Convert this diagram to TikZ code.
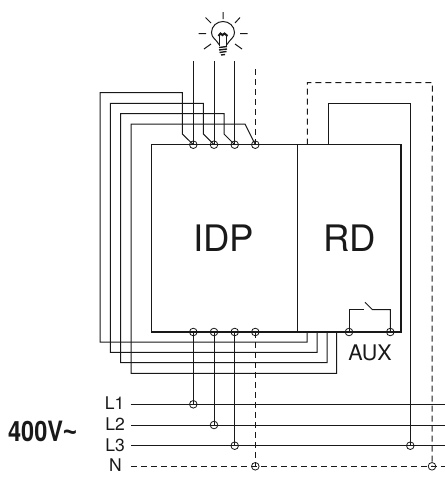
\documentclass[tikz,border=0pt]{standalone}
\usepackage{fontspec}
\setmainfont{TeX Gyre Heros}
\newfontfamily\tildefont{Liberation Sans}
\definecolor{ink}{gray}{0.1}
\tikzset{
  x=1pt,y=-1pt,
  wire/.style={draw=ink,line width=1pt},
  dwire/.style={draw=ink,line width=1pt,dash pattern=on 6pt off 4pt},
  boxline/.style={draw=ink,line width=1.25pt},
  term/.style={circle,draw=ink,line width=0.8pt,minimum size=7.6pt,inner sep=0pt,outer sep=0pt},
  lab/.style={inner sep=0pt,text=ink},
}
\begin{document}
\begin{tikzpicture}
\useasboundingbox (0,0) rectangle (445,480);
% coordinates
\coordinate (t1) at (193.3,144.7);\coordinate (t2) at (214,144.7);\coordinate (t3) at (234.7,144.7);\coordinate (t4) at (255.3,144.7);
\coordinate (b1) at (193.3,332);\coordinate (b2) at (214,332);\coordinate (b3) at (234.7,332);\coordinate (b4) at (255.3,332);
\coordinate (a1) at (349,332);\coordinate (a2) at (390.3,332);
\coordinate (q1) at (193.3,404.3);\coordinate (q2) at (214,425);\coordinate (q3) at (234.7,445.7);\coordinate (q4) at (255.3,466.3);
\coordinate (q5) at (410.3,445.7);\coordinate (q6) at (432,466.3);
% lines
\draw[wire] (130.5,404.3) -- (445,404.3);
\draw[wire] (131,425) -- (445,425);
\draw[wire] (131,445.7) -- (445,445.7);
\draw[dwire] (131,466.3) -- (445,466.3);
% loops
\draw[wire] (193.3,144.7) -- (182.3,134) -- (182.3,92.7) -| (100,342) -- (307,342) -- (307,332);
\draw[wire] (214,144.7) -- (203.3,134) -- (203.3,103.3) -| (110.3,352.3) -- (317,352.3) -- (317,332);
\draw[wire] (234.7,144.7) -- (224,134) -- (224,113.7) -| (120.7,362.7) -- (327,362.7) -- (327,332);
\draw[wire] (255.3,144.7) -- (245,124) -| (131,373.3) -- (336.7,373.3) -- (336.7,332);
% boxes
\draw[boxline] (151.7,144.7) rectangle (297.3,332);
\draw[boxline] (297.3,144.7) rectangle (401,332);
\node[lab,font=\fontsize{36.5}{36.5}\selectfont] (idp) at (223.5,238) {IDP};
\node[lab,font=\fontsize{36.5}{36.5}\selectfont] (rd) at (349.5,238) {RD};
% terminals
\foreach \n in {t1,t2,t3,t4,b1,b2,b3,b4,a1,a2,q1,q2,q3,q4,q5,q6}
  \node[term] (T\n) at (\n) {};
% up wires
\draw[wire] (t1) -- (193.3,61);
\draw[wire] (t2) -- (214,61);
\draw[wire] (t3) -- (234.7,61);
\draw[dwire] (t4) -- (255.3,66);
% feeds
\draw[wire] (b1) -- (q1);
\draw[wire] (b2) -- (q2);
\draw[wire] (b3) -- (q3);
\draw[dwire] (b4) -- (q4);
\draw[wire] (328,144.7) -- (328,103.3) -- (410.3,103.3) -- (q5);
\draw[dwire] (307.3,144.7) -- (307.3,82.7) -- (432.3,82.7) -- (q6);
% aux contact
\draw[wire] (a1) -- (349,309.5) -- (363.7,309.5);
\draw[wire] (365,302.3) -- (372.3,309.5) -- (390.3,309.5) -- (a2);
\node[lab,font=\fontsize{21.5}{21.5}\selectfont] (aux) at (370,353) {AUX};
% labels
\node[lab,anchor=east,font=\fontsize{17.5}{17.5}\selectfont] (l1) at (124.5,403) {L1};
\node[lab,anchor=east,font=\fontsize{17.5}{17.5}\selectfont] (l2) at (125,424) {L2};
\node[lab,anchor=east,font=\fontsize{17.5}{17.5}\selectfont] (l3) at (125,445) {L3};
\node[lab,anchor=east,font=\fontsize{17.5}{17.5}\selectfont] (ln) at (122,465) {N};
\node[lab,anchor=base west,font=\bfseries\fontsize{28}{28}\selectfont,xscale=0.84] (v) at (8,441.7) {400V{\tildefont\char`~}};
% lamp
\begin{scope}[line width=1pt]
\draw[ink] (219,44.5) .. controls (216,39) and (211.5,38) .. (211.5,32.5)
  .. controls (211.5,26) and (217,21.5) .. (223,21.5)
  .. controls (229,21.5) and (234.5,26) .. (234.5,32.5)
  .. controls (234.5,38) and (230,39) .. (227,44.5);
\draw[ink,line width=1.3pt] (219.5,46) -- (219.5,36) (226.5,46) -- (226.5,36);
\draw[ink,line width=2pt] (218.5,36) -- (220.5,33.5) -- (222.5,35) -- (224.5,33.5) -- (227.5,36);
\draw[ink,line width=1.4pt] (219,47.5) -- (227,46.5) (219,50) -- (227,49) (219.5,52.5) -- (226.5,51.5) (221,55) -- (225,54.5);
\draw[ink] (223,12) -- (223,19) (198.5,33.5) -- (206,33.5) (240,33.5) -- (247.5,33.5)
 (205.5,17.5) -- (211,23) (240,17.5) -- (235,23) (204,49) -- (211,44) (242,49) -- (235,44);
\end{scope}
\end{tikzpicture}
\end{document}
